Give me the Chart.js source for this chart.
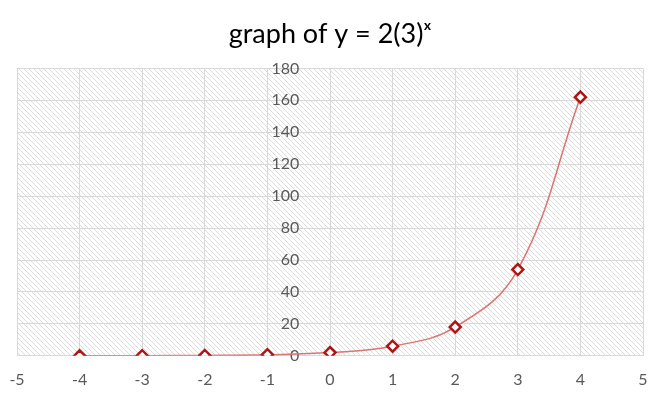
<!DOCTYPE html>
<html>
<head>
<meta charset="utf-8">
<script src="https://cdn.jsdelivr.net/npm/chart.js@4"></script>
<style>
  html, body { margin: 0; padding: 0; background: #fff; }
  #wrap { width: 655px; height: 395px; }
</style>
</head>
<body>
<div id="wrap"><canvas id="chart"></canvas></div>
<script>
const xValues = [-4, -3, -2, -1, 0, 1, 2, 3, 4];
const yValues = [0.025, 0.074, 0.222, 0.667, 2, 6, 18, 54, 162];
const xTicks = [-5, -4, -3, -2, -1, 0, 1, 2, 3, 4, 5];
const yTicks = [0, 20, 40, 60, 80, 100, 120, 140, 160, 180];

// diagonal hatch fill for the plot area
function makeHatch() {
  const c = document.createElement('canvas');
  c.width = 5; c.height = 5;
  const g = c.getContext('2d');
  g.fillStyle = '#ffffff';
  g.fillRect(0, 0, 5, 5);
  g.strokeStyle = '#dcdcdc';
  g.lineWidth = 1;
  g.beginPath();
  g.moveTo(-1, -1); g.lineTo(6, 6);
  g.moveTo(-1, 4); g.lineTo(1, 6);
  g.moveTo(4, -1); g.lineTo(6, 1);
  g.stroke();
  return g.createPattern(c, 'repeat');
}

const hatchBg = {
  id: 'hatchBg',
  beforeDraw(chart) {
    const { ctx, chartArea: a } = chart;
    ctx.save();
    ctx.fillStyle = makeHatch();
    ctx.fillRect(a.left, a.top, a.right - a.left, a.bottom - a.top);
    ctx.restore();
  }
};

const ctx = document.getElementById('chart').getContext('2d');
new Chart(ctx, {
  type: 'scatter',
  data: {
    datasets: [{
      data: xValues.map((x, i) => ({ x: x, y: yValues[i] })),
      showLine: true,
      borderColor: '#dc7470',
      borderWidth: 1.5,
      tension: 0.4,
      pointStyle: 'rectRot',
      pointRadius: 5.5,
      pointBorderWidth: 2.5,
      pointBorderColor: '#b01515',
      pointBackgroundColor: '#ffffff'
    }]
  },
  options: {
    responsive: true,
    maintainAspectRatio: false,
    animation: false,
    layout: { padding: { top: 8, left: 17, right: 12, bottom: -8 } },
    plugins: {
      legend: { display: false },
      tooltip: { enabled: false },
      title: {
        display: true,
        text: 'graph of y = 2(3)ˣ',
        color: '#000000',
        font: { family: 'Lato', size: 27, weight: 'normal' },
        padding: { top: 10, bottom: 18 }
      }
    },
    scales: {
      x: {
        type: 'linear',
        min: -5, max: 5,
        afterBuildTicks: s => { s.ticks = xTicks.map(v => ({ value: v })); },
        afterFit: s => { s.paddingLeft = 0; s.paddingRight = 0; },
        grid: { color: '#d9d9d9', drawTicks: false },
        border: { color: '#d9d9d9' },
        ticks: { color: '#595959', padding: 14, font: { family: 'Lato', size: 16 } }
      },
      y: {
        type: 'linear',
        min: 0, max: 180,
        position: { x: -0.49 },
        afterBuildTicks: s => { s.ticks = yTicks.map(v => ({ value: v })); },
        afterFit: s => { s.paddingTop = 0; s.paddingBottom = 0; },
        grid: { color: '#d9d9d9', drawTicks: false },
        border: { display: false },
        ticks: { color: '#595959', padding: 0, font: { family: 'Lato', size: 16 } }
      }
    }
  },
  plugins: [hatchBg]
});
</script>
</body>
</html>
